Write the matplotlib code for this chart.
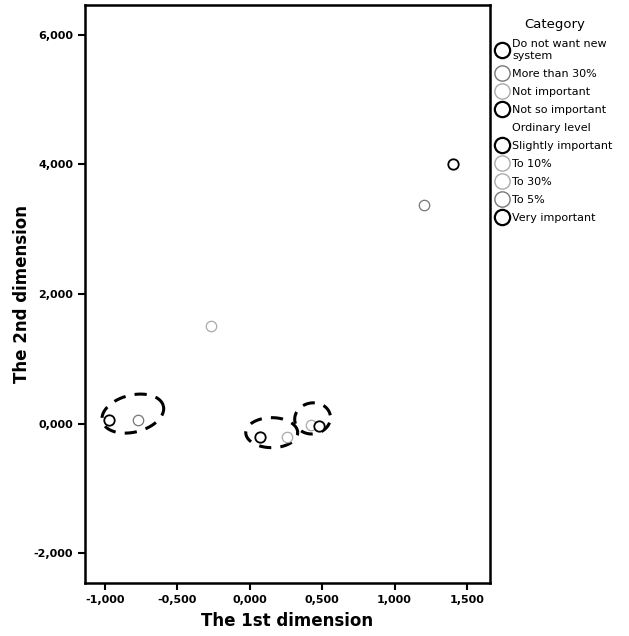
import numpy as np
import matplotlib.pyplot as plt
from matplotlib.lines import Line2D
from matplotlib.ticker import FuncFormatter

# category coordinates
categories = ["Do not want new\nsystem", "More than 30%", "Not important",
              "Not so important", "Ordinary level", "Slightly important",
              "To 10%", "To 30%", "To 5%", "Very important"]
dim1 = [1.407, 1.20, 0.42, 0.48, None, 0.07, 0.26, -0.27, -0.77, -0.97]
dim2 = [4.00, 3.38, -0.02, -0.04, None, -0.20, -0.20, 1.50, 0.06, 0.06]
edge_colors = ["black", "#777777", "#aaaaaa", "black", None, "black",
               "#aaaaaa", "#aaaaaa", "#777777", "black"]

# dashed ellipses drawn by hand on the chart (centre in data, size in pixels)
ell_cx = [-0.807, 0.152, 0.434]
ell_cy = [0.154, -0.14, 0.08]
ell_w = [63, 52, 36]
ell_h = [37, 30, 31]
ell_angle = [14, 0, 10]

x_ticks = [-1.0, -0.5, 0.0, 0.5, 1.0, 1.5]
y_ticks = [-2.0, 0.0, 2.0, 4.0, 6.0]

fig = plt.figure(figsize=(6.29, 6.36), dpi=100)
ax = fig.add_axes([0.135, 0.0833, 0.644, 0.909])
ax.set_xlim(-1.138, 1.659)
ax.set_ylim(-2.46, 6.46)

for x, y, c in zip(dim1, dim2, edge_colors):
  if x is None:
    continue
  ax.plot([x], [y], marker="o", markersize=7.5, markerfacecolor="white",
          markeredgecolor=c, markeredgewidth=1.3 if c == "black" else 0.9,
          linestyle="none", zorder=3)

# ellipses: build outline in pixel units then convert to data units
px_x = 145.0   # pixels per unit on x
px_y = 64.75   # pixels per unit on y
t = np.linspace(0, 2 * np.pi, 200)
for cx, cy, w, h, a in zip(ell_cx, ell_cy, ell_w, ell_h, ell_angle):
  th = np.radians(a)
  ex = (w / 2) * np.cos(t) * np.cos(th) - (h / 2) * np.sin(t) * np.sin(th)
  ey = (w / 2) * np.cos(t) * np.sin(th) + (h / 2) * np.sin(t) * np.cos(th)
  ax.plot(cx + ex / px_x, cy + ey / px_y, color="black", linewidth=2.2,
          dashes=(4, 3), zorder=2)

fmt = FuncFormatter(lambda v, p: ("%.3f" % v).replace(".", ","))
ax.set_xticks(x_ticks)
ax.set_yticks(y_ticks)
ax.xaxis.set_major_formatter(fmt)
ax.yaxis.set_major_formatter(fmt)
ax.tick_params(direction="out", length=5, width=1.5, labelsize=8)
for lab in ax.get_xticklabels() + ax.get_yticklabels():
  lab.set_fontweight("bold")
for sp in ax.spines.values():
  sp.set_linewidth(1.8)

ax.set_xlabel("The 1st dimension", fontsize=12, fontweight="bold", labelpad=5)
ax.set_ylabel("The 2nd dimension", fontsize=12, fontweight="bold", labelpad=2)

handles = []
for c in edge_colors:
  if c is None:
    handles.append(Line2D([], [], linestyle="none", marker="None"))
  else:
    handles.append(Line2D([], [], linestyle="none", marker="o", markersize=11,
                          markerfacecolor="white", markeredgecolor=c,
                          markeredgewidth=1.6 if c == "black" else 1.0))
leg = fig.legend(handles, categories, title="Category", loc="upper left",
                 bbox_to_anchor=(0.782, 0.978), frameon=False, fontsize=8,
                 title_fontsize=9.5, handletextpad=0.35, handlelength=1.1,
                 labelspacing=0.72, borderaxespad=0)

fig.savefig("out.png", dpi=100)
